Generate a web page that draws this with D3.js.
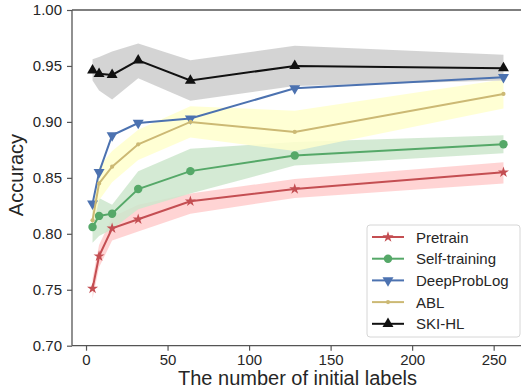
<!DOCTYPE html>
<html>
<head>
<meta charset="utf-8">
<script src="https://cdn.jsdelivr.net/npm/d3@7"></script>
<style>
  body { margin: 0; background: #fff; }
  svg { display: block; font-family: "Liberation Sans", Arial, sans-serif; }
</style>
</head>
<body>
<svg id="chart" width="521" height="391"></svg>
<script>
// Data
const labelCounts = [4, 8, 16, 32, 64, 128, 256];

const pretrain = [0.751, 0.780, 0.805, 0.813, 0.829, 0.840, 0.855];
const pretrainLo = [0.742, 0.770, 0.794, 0.802, 0.818, 0.832, 0.845];
const pretrainHi = [0.760, 0.790, 0.815, 0.826, 0.836, 0.849, 0.864];

const selfTraining = [0.806, 0.816, 0.818, 0.840, 0.856, 0.870, 0.880];
const selfTrainingLo = [0.792, 0.798, 0.804, 0.822, 0.836, 0.861, 0.872];
const selfTrainingHi = [0.822, 0.832, 0.826, 0.856, 0.876, 0.882, 0.888];

const deepProbLog = [0.827, 0.855, 0.888, 0.899, 0.903, 0.930, 0.940];

const abl = [0.812, 0.845, 0.860, 0.880, 0.900, 0.891, 0.925];
const ablLo = [0.805, 0.830, 0.846, 0.866, 0.886, 0.874, 0.912];
const ablHi = [0.820, 0.860, 0.874, 0.893, 0.914, 0.910, 0.938];

const skiHl = [0.946, 0.943, 0.942, 0.955, 0.937, 0.950, 0.948];
const skiHlLo = [0.937, 0.928, 0.920, 0.939, 0.919, 0.932, 0.937];
const skiHlHi = [0.956, 0.958, 0.963, 0.970, 0.955, 0.968, 0.960];

const xTicks = [0, 50, 100, 150, 200, 250];
const yTicks = [0.70, 0.75, 0.80, 0.85, 0.90, 0.95, 1.00];

const series = [
  { name: 'Pretrain', values: pretrain, lo: pretrainLo, hi: pretrainHi,
    color: '#c44e52', band: 'rgb(255,204,204)', marker: 'star' },
  { name: 'Self-training', values: selfTraining, lo: selfTrainingLo, hi: selfTrainingHi,
    color: '#55a868', band: 'rgb(204,230,204)', marker: 'circle' },
  { name: 'DeepProbLog', values: deepProbLog, lo: null, hi: null,
    color: '#4c72b0', band: null, marker: 'down' },
  { name: 'ABL', values: abl, lo: ablLo, hi: ablHi,
    color: '#ccb974', band: 'rgb(255,255,204)', marker: 'dot' },
  { name: 'SKI-HL', values: skiHl, lo: skiHlLo, hi: skiHlHi,
    color: '#111111', band: 'rgb(204,204,204)', marker: 'up' },
];

// Layout
const LEFT = 72;
const RIGHT = 524;
const TOP = 10;
const BOTTOM = 345.7;

const svg = d3.select('#chart');

const xScale = d3.scaleLinear([-8.6, 268.6], [LEFT, RIGHT]);
const yScale = d3.scaleLinear([0.7, 1.0], [BOTTOM, TOP]);

// Bands
series.filter((s) => s.band).forEach((s) => {
  const area = d3.area()
    .x((d, i) => xScale(labelCounts[i]))
    .y0((d, i) => yScale(s.lo[i]))
    .y1((d, i) => yScale(s.hi[i]));
  svg.append('path')
    .datum(s.values)
    .attr('d', area)
    .attr('fill', s.band)
    .attr('opacity', 0.85);
});

// Marker shape helper
function markerPath(kind) {
  if (kind === 'star') return d3.symbol(d3.symbolStar, 38)();
  if (kind === 'circle') return d3.symbol(d3.symbolCircle, 56)();
  if (kind === 'dot') return d3.symbol(d3.symbolCircle, 14)();
  return d3.symbol(d3.symbolTriangle, 52)();
}

function drawMarker(g, kind, color, x, y) {
  g.append('path')
    .attr('d', markerPath(kind))
    .attr('fill', color)
    .attr('transform', `translate(${x},${y})${kind === 'down' ? ' rotate(180)' : ''}`);
}

// Lines + markers
const line = d3.line()
  .x((d, i) => xScale(labelCounts[i]))
  .y((d) => yScale(d));

series.forEach((s) => {
  const g = svg.append('g');
  g.append('path')
    .datum(s.values)
    .attr('d', line)
    .attr('fill', 'none')
    .attr('stroke', s.color)
    .attr('stroke-width', 2);
  s.values.forEach((v, i) => drawMarker(g, s.marker, s.color, xScale(labelCounts[i]), yScale(v)));
});

// Axes
const xAxis = d3.axisBottom(xScale).tickValues(xTicks).tickSize(5).tickPadding(4);
const yAxis = d3.axisLeft(yScale).tickValues(yTicks).tickFormat(d3.format('.2f')).tickSize(5).tickPadding(5);

const gx = svg.append('g')
  .attr('transform', `translate(0,${BOTTOM})`)
  .call(xAxis);
const gy = svg.append('g')
  .attr('transform', `translate(${LEFT},0)`)
  .call(yAxis);

[gx, gy].forEach((g) => {
  g.select('.domain').remove();
  g.selectAll('.tick line').attr('stroke', '#555').attr('stroke-width', 1.2);
  g.selectAll('.tick text')
    .attr('font-size', 15)
    .attr('fill', '#262626')
    .attr('font-family', '"Liberation Sans", Arial, sans-serif');
});

// Spines (left, bottom, top)
svg.append('line').attr('x1', LEFT).attr('x2', LEFT).attr('y1', TOP).attr('y2', BOTTOM)
  .attr('stroke', '#555').attr('stroke-width', 1.3);
svg.append('line').attr('x1', LEFT).attr('x2', RIGHT).attr('y1', BOTTOM).attr('y2', BOTTOM)
  .attr('stroke', '#555').attr('stroke-width', 1.3);
svg.append('line').attr('x1', LEFT).attr('x2', RIGHT).attr('y1', TOP).attr('y2', TOP)
  .attr('stroke', '#555').attr('stroke-width', 1.3);

// Axis titles
svg.append('text')
  .attr('x', 297.5)
  .attr('y', 385)
  .attr('text-anchor', 'middle')
  .attr('font-size', 20)
  .attr('fill', '#262626')
  .text('The number of initial labels');

svg.append('text')
  .attr('transform', 'translate(23,175) rotate(-90)')
  .attr('text-anchor', 'middle')
  .attr('font-size', 20)
  .attr('fill', '#262626')
  .text('Accuracy');

// Legend
const legend = svg.append('g').attr('transform', 'translate(367,225)');
legend.append('rect')
  .attr('width', 153)
  .attr('height', 112)
  .attr('rx', 3)
  .attr('fill', 'rgba(255,255,255,0.8)')
  .attr('stroke', '#d6d6d6');

series.forEach((s, i) => {
  const y = 12 + i * 21.7;
  legend.append('line')
    .attr('x1', 5).attr('x2', 37).attr('y1', y).attr('y2', y)
    .attr('stroke', s.color).attr('stroke-width', 2);
  drawMarker(legend, s.marker, s.color, 21, y);
  legend.append('text')
    .attr('x', 49)
    .attr('y', y + 5.5)
    .attr('font-size', 15)
    .attr('fill', '#262626')
    .text(s.name);
});
</script>
</body>
</html>
